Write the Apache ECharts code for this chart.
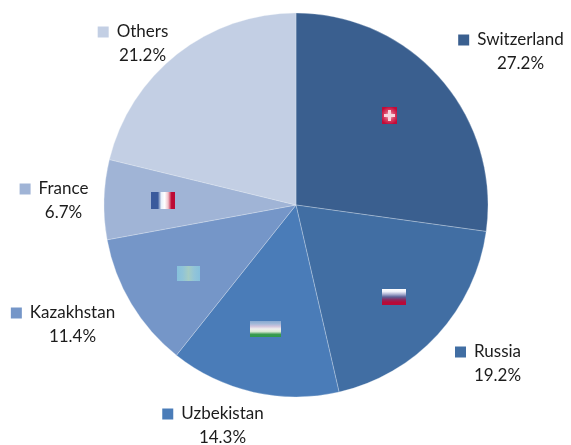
<!DOCTYPE html>
<html><head><meta charset="utf-8">
<style>html,body{margin:0;padding:0;background:#fff}#c{width:571px;height:445px}</style>
<script src="https://cdn.jsdelivr.net/npm/echarts@6/dist/echarts.min.js"></script>
</head><body><div id="c"></div>
<script>
const categories = ['Switzerland','Russia','Uzbekistan','Kazakhstan','France','Others'];
const shares = [27.2,19.2,14.3,11.4,6.7,21.2];
const colors = ['#3a5f8f','#416ea3','#4a7cb8','#7596c8','#a0b4d6','#c3cfe4'];
const labelAnchors = [[511,52],[488,364],[213,426],[63,325],[54,201],[133,44]];
const FONT = 'Lato';

function vGrad(stops){return {type:'linear',x:0,y:0,x2:0,y2:1,colorStops:stops.map((c,i)=>({offset:i/(stops.length-1),color:c}))};}
function hGrad(stops){return {type:'linear',x:0,y:0,x2:1,y2:0,colorStops:stops.map((c,i)=>({offset:i/(stops.length-1),color:c}))};}
function flag(x,y,w,h,fill){return {type:'rect',shape:{x,y,width:w,height:h},style:{fill},silent:true,z:10};}

const rich = {text:{fontFamily:FONT,fontSize:17,color:'#1c1c1c',lineHeight:24},spacer:{width:19}};
colors.forEach((c,i)=>{rich['sq'+i]={width:11,height:11,backgroundColor:c};});
rich.gap={width:8};

const chart = echarts.init(document.getElementById('c'),null,{renderer:'canvas'});
chart.setOption({
  animation:false,
  backgroundColor:'#fff',
  series:[{
    type:'pie',
    center:[296,205],
    radius:[0,192],
    startAngle:90,
    clockwise:true,
    data:categories.map((n,i)=>({name:n,value:shares[i],itemStyle:{color:colors[i]}})),
    itemStyle:{borderColor:'#e8edf5',borderWidth:0.3},
    silent:true,
    labelLine:{show:false},
    label:{
      show:true,
      align:'center',
      overflow:'none',
      formatter:p=>`{sq${p.dataIndex}|}{gap|}{text|${p.name}}\n{spacer|}{text|${p.value.toFixed(1)}%}`,
      rich
    },
    labelLayout:p=>({x:labelAnchors[p.dataIndex][0],y:labelAnchors[p.dataIndex][1],align:'center',verticalAlign:'middle'})
  }],
  graphic:[
    flag(382,107,15,17,{type:'radial',x:0.5,y:0.5,r:0.6,colorStops:[{offset:0,color:'#f8d0da'},{offset:0.5,color:'#dc4a6c'},{offset:1,color:'#c20a38'}]}),
    flag(388,110,3,11,'#f8d4dd'),
    flag(384,114,11,3,'#f8d4dd'),
    flag(382,289,24,16,vGrad(['#ffffff','#eef0fa','#a9aed0','#5b5f95','#8a2a60','#b80a38','#b80a38'])),
    flag(250,321,31,16,vGrad(['#88a8d0','#a0b8d8','#d0c4dc','#f0f0ee','#d8e8d0','#3a9a50','#2f9a48'])),
    flag(177,266,23,15,hGrad(['#86c0dc','#90c4d8','#a4ccc4','#92c4d8','#86c0dc'])),
    flag(151,192,24,17,hGrad(['#3a5a9c','#3a5a9c','#3a5a9c','#e8f0fa','#ffffff','#f0c0c8','#bc0a34','#bc0a34']))
  ]
});
</script></body></html>
